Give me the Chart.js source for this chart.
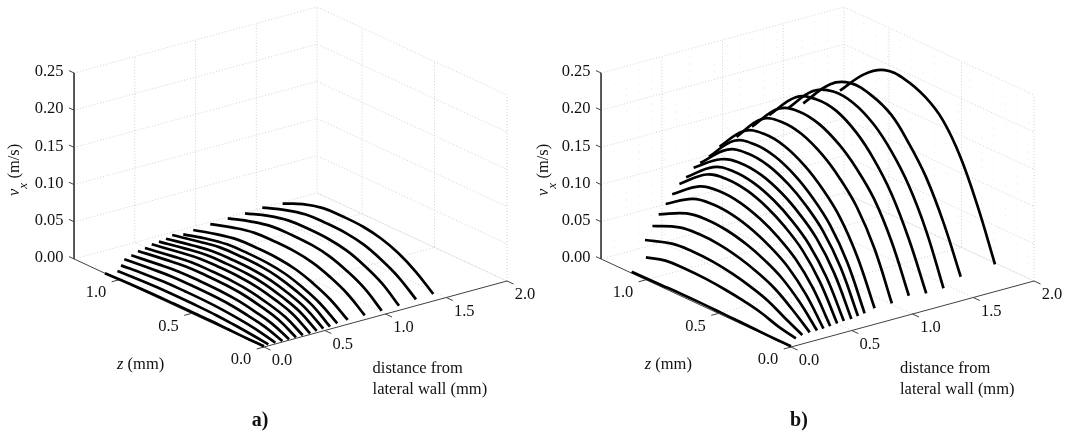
<!DOCTYPE html>
<html><head><meta charset="utf-8">
<style>html,body{margin:0;padding:0;background:#fff}canvas{display:block}</style>
<script src="https://cdn.jsdelivr.net/npm/chart.js@4"></script>
</head><body><canvas id="c" width="1073" height="432"></canvas>
<script>
const vTicks=[0,0.05,0.10,0.15,0.20,0.25];
const vMinor=[0.01,0.02,0.03,0.04,0.06,0.07,0.08,0.09,0.11,0.12,0.13,0.14,0.16,0.17,0.18,0.19,0.21,0.22,0.23,0.24];
const zTicks=[0,0.5,1.0];
const dTicks=[0,0.5,1.0,1.5,2.0];
const zGrid=[0,0.12,0.24,0.36,0.48,0.62,0.76,0.9];
const zMax=1.31;
const dA=[0,0.036,0.093,0.151,0.206,0.263,0.319,0.379,0.434,0.488,0.543,0.603,0.689,0.829,0.969,1.111,1.251,1.393];
const zEndA=[1.097,1.041,1.064,1.09,1.088,1.09,1.088,1.092,1.088,1.085,1.088,1.062,1.065,1.065,1.062,1.062,1.06,1.039];
const vA=[
[.001,.001,.0015,.002,.002,.002,.002,.0015,0],
[.002,.0047,.0069,.0086,.0093,.0095,.0093,.0082,.0065],
[.0016,.0071,.0106,.013,.0142,.0145,.0142,.0125,.0095],
[.0013,.0096,.0142,.0176,.0191,.0195,.0191,.0168,.0128],
[.0013,.0118,.0175,.0216,.0235,.024,.0235,.0206,.0159],
[.0013,.014,.0208,.0257,.0279,.0285,.0279,.0245,.019],
[.0016,.0152,.0226,.0279,.0304,.031,.0304,.0267,.0207],
[.0016,.0167,.0248,.0306,.0333,.034,.0333,.0292,.0226],
[.0023,.0179,.0266,.0329,.0358,.0365,.0358,.0314,.0241],
[.003,.0191,.0285,.0351,.0382,.039,.0382,.0335,.0259],
[.0032,.0206,.0307,.0378,.0412,.042,.0412,.0361,.0282],
[.005,.0213,.0318,.0392,.0426,.0435,.0426,.0374,.0288],
[.0058,.0225,.0336,.0414,.0451,.046,.0451,.0396,.0305],
[.0058,.024,.0358,.0441,.048,.049,.048,.0421,.0323],
[.0058,.0252,.0376,.0464,.0505,.0515,.0505,.0443,.034],
[.0062,.026,.0387,.0477,.0519,.053,.0519,.0456,.0344],
[.0086,.0274,.0402,.0495,.0539,.055,.0539,.0473,.036],
[.0094,.0285,.0425,.0515,.0562,.0573,.0562,.049,.037]];
const dB=[0,0.04,0.093,0.154,0.214,0.267,0.323,0.38,0.435,0.497,0.551,0.606,0.688,0.83,0.97,1.113,1.255,1.397,1.679];
const zEndB=[1.099,1.034,1.085,1.085,1.092,1.088,1.09,1.088,1.088,1.088,1.088,1.073,1.069,1.071,1.082,1.083,1.072,1.086,1.069];
const vB=[
[.001,.001,.0015,.002,.0025,.003,.003,.0025,.0019],
[.0099,.0148,.0226,.0276,.0312,.0338,.0345,.033,.0254],
[.012,.0241,.0367,.0448,.0507,.0549,.056,.0535,.0417],
[.0129,.0327,.0498,.0608,.0688,.0745,.076,.0726,.0578],
[.0126,.04,.0609,.0744,.0842,.0911,.093,.0888,.0702],
[.013,.0477,.0727,.0888,.1005,.1088,.111,.106,.0821],
[.0138,.0542,.0825,.1008,.114,.1235,.126,.1203,.0925],
[.0148,.0602,.0917,.112,.1267,.1372,.14,.1337,.104],
[.0156,.0636,.0969,.1184,.1339,.145,.148,.1413,.1105],
[.0156,.0671,.1022,.1248,.1412,.1529,.156,.149,.1207],
[.0172,.0718,.1094,.1336,.1511,.1637,.167,.1595,.1246],
[.0184,.0761,.1159,.1416,.1602,.1735,.177,.169,.132],
[.0215,.0804,.1225,.1496,.1692,.1833,.187,.1786,.1422],
[.0219,.0847,.129,.1576,.1783,.1931,.197,.1881,.149],
[.0259,.0882,.1343,.164,.1855,.2009,.205,.1958,.1554],
[.0228,.085,.135,.17,.195,.212,.215,.205,.1646],
[.0233,.09,.14,.175,.2,.216,.219,.207,.1684],
[.0325,.095,.145,.18,.207,.221,.224,.21,.1675],
[.0367,.104,.16,.198,.218,.229,.229,.211,.1735]];

const panels=[{ox:264,ds:dA,zs:zEndA,vs:vA,name:'a)',nameX:260,zLab:140,distX:372.6,vX:15,minor:false},
              {ox:791,ds:dB,zs:zEndB,vs:vB,name:'b)',nameX:799,zLab:667.7,distX:900,vX:544,minor:true}];
const proj=(p,d,z,v)=>({x:p.ox+121.5*d-145*z,y:347-33*d-67.2*z-744*v});
const datasets=[];
const seg=(pts,kind)=>datasets.push(
  kind==='grid'?{data:pts,showLine:true,pointRadius:0,borderColor:'#d2d2d2',borderWidth:1,borderDash:[1,2],order:3}
  :kind==='minor'?{data:pts,showLine:true,pointRadius:0,borderColor:'#e8e8e8',borderWidth:1,borderDash:[1,12],order:4}
  :{data:pts,showLine:true,pointRadius:0,borderColor:'#404040',borderWidth:1,order:2});
panels.forEach(p=>{
  const P=(d,z,v)=>proj(p,d,z,v);
  if(p.minor) vMinor.forEach(v=>seg([P(0,zMax,v),P(2,zMax,v),P(2,0,v)],'minor'));
  vTicks.forEach(v=>{seg([P(0,zMax,v),P(2,zMax,v),P(2,0,v)],'grid');});
  dTicks.slice(1).forEach(d=>seg([P(d,0,0),P(d,zMax,0),P(d,zMax,0.25)],'grid'));
  zTicks.slice(1).forEach(z=>seg([P(0,z,0),P(2,z,0),P(2,z,0.25)],'grid'));
  seg([P(2,0,0),P(2,0,0.25)],'grid');
  seg([P(0,zMax,0.25),P(0,zMax,0)],'axis');
  seg([P(0,zMax,0),P(0,0,0),P(2,0,0)],'axis');
  vTicks.forEach(v=>seg([P(0,zMax,v),P(0,zMax+0.035,v)],'axis'));
  dTicks.forEach(d=>seg([P(d,0,0),P(d,-0.045,0)],'axis'));
  zTicks.forEach(z=>seg([P(0,z,0),P(-0.06,z,0)],'axis'));
  p.vs.forEach((vals,i)=>{
    const zz=zGrid.concat([p.zs[i]]);
    datasets.push({data:vals.map((v,k)=>P(p.ds[i],zz[k],v)),showLine:true,pointRadius:0,
      borderColor:'#000',borderWidth:2.7,tension:0.4,borderCapStyle:'butt',order:1});
  });
});
const F='"Liberation Serif"';
const textPlugin={id:'text',afterDraw(ch){
  const c=ch.ctx;c.save();c.fillStyle='#111';c.textBaseline='middle';
  const T=(s,x,y,al,f)=>{c.textAlign=al||'center';c.font=f||('16.5px '+F);c.fillText(s,x,y);};
  panels.forEach(p=>{
    vTicks.forEach(v=>{const q=proj(p,0,zMax,v);T(v.toFixed(2),q.x-10.5,q.y-1,'right');});
    dTicks.forEach(d=>{const q=proj(p,d,0,0);T(d.toFixed(1),q.x+18,q.y+14);});
    zTicks.forEach(z=>{const q=proj(p,0,z,0);T(z.toFixed(1),q.x-23,q.y+13);});
    c.textAlign='left';
    const zl=p.zLab-23;
    c.font='italic 16.5px '+F;c.fillText('z',zl,365);
    const w=c.measureText('z').width;
    c.font='16.5px '+F;c.fillText(' (mm)',zl+w,365);
    T('distance from',p.distX,369,'left');
    T('lateral wall (mm)',p.distX,390,'left');
    T(p.name,p.nameX,421,'center','bold 20px '+F);
    c.save();c.translate(p.vX,196);c.rotate(-Math.PI/2);c.textAlign='left';
    c.font='italic 16.5px '+F;c.fillText('v',0,0);
    const wv=c.measureText('v').width;
    c.font='italic 13px '+F;c.fillText('x',wv,9);
    c.font='16.5px '+F;c.fillText(' (m/s)',wv+6,0);
    c.restore();
  });
  c.restore();
}};
new Chart(document.getElementById('c'),{type:'scatter',data:{datasets},plugins:[textPlugin],options:{
  responsive:false,animation:false,devicePixelRatio:1,layout:{padding:0},
  plugins:{legend:{display:false},tooltip:{enabled:false},title:{display:false}},
  scales:{x:{type:'linear',min:0,max:1073,display:false},y:{type:'linear',min:0,max:432,reverse:true,display:false}}
}});
</script></body></html>
